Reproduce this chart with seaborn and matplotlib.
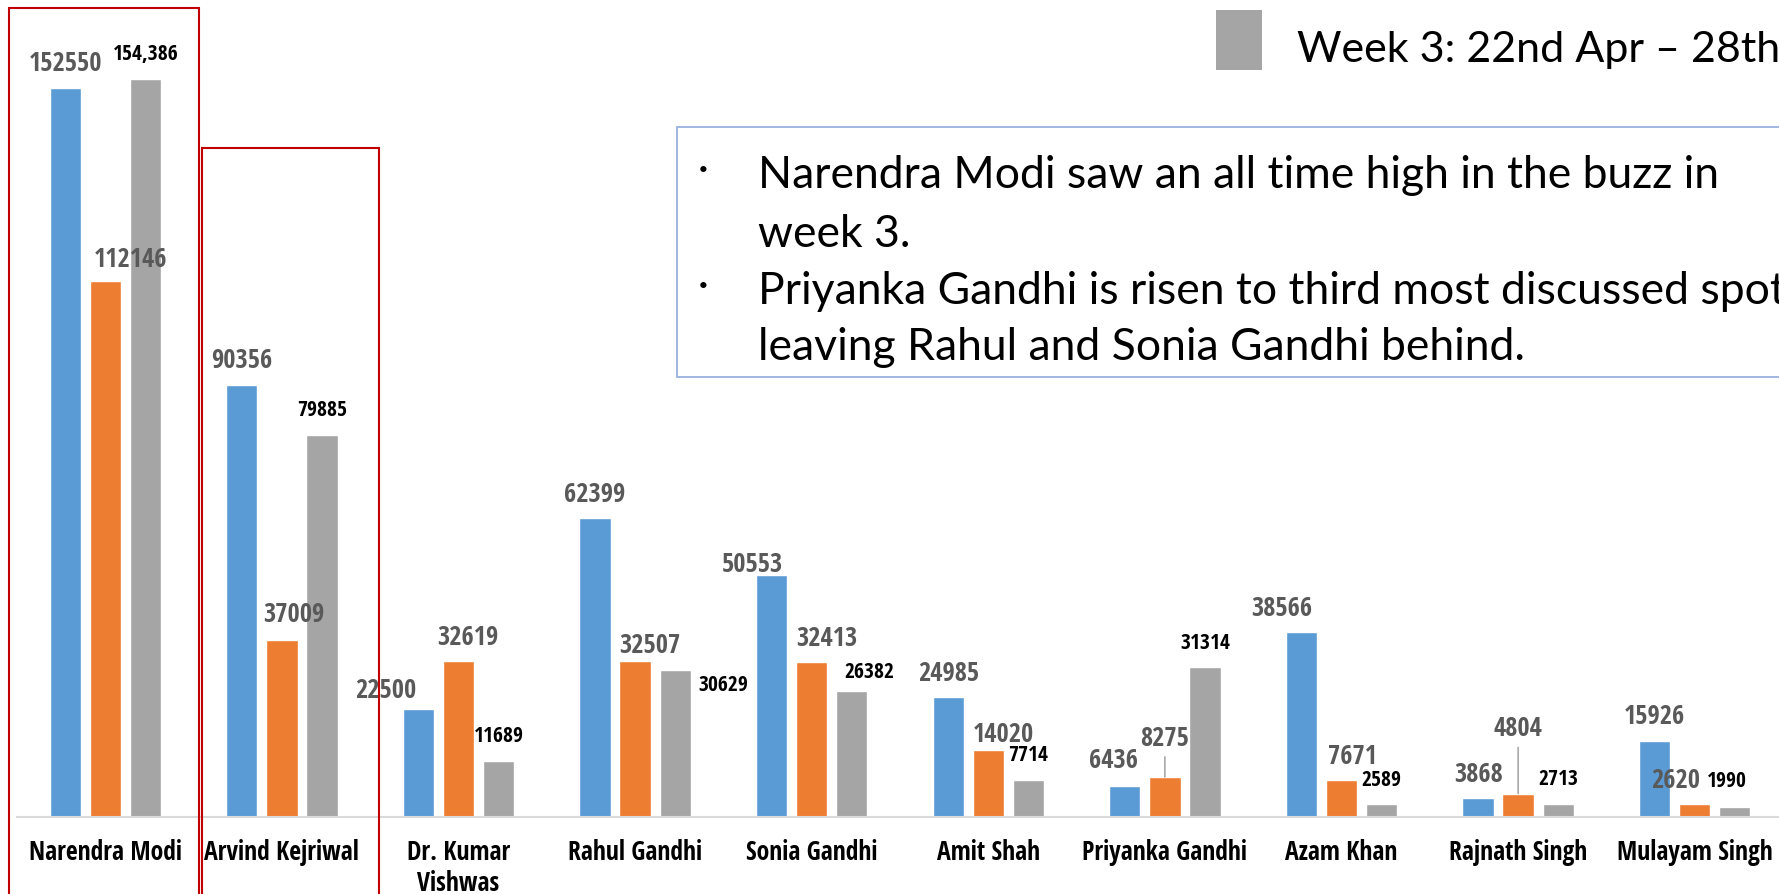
import numpy as np
import pandas as pd
import matplotlib
matplotlib.use("Agg")
import matplotlib.pyplot as plt
from matplotlib.patches import Rectangle
import seaborn as sns

# data
leaders = ["Narendra Modi", "Arvind Kejriwal", "Dr. Kumar\nVishwas", "Rahul Gandhi",
           "Sonia Gandhi", "Amit Shah", "Priyanka Gandhi", "Azam Khan",
           "Rajnath Singh", "Mulayam Singh"]
weeks = ["Week 1", "Week 2", "Week 3: 22nd Apr \u2013 28th Apr"]
week1 = [152550, 90356, 22500, 62399, 50553, 24985, 6436, 38566, 3868, 15926]
week2 = [112146, 37009, 32619, 32507, 32413, 14020, 8275, 7671, 4804, 2620]
week3 = [154386, 79885, 11689, 30629, 26382, 7714, 31314, 2589, 2713, 1990]
colors = ["#5B9BD5", "#ED7D31", "#A5A5A5"]

notes = [["Narendra Modi saw an all time high in the buzz in", "week 3."],
         ["Priyanka Gandhi is risen to third most discussed spot",
          "leaving Rahul and Sonia Gandhi behind."]]

df = pd.DataFrame({
    "leader": leaders * 3,
    "week": np.repeat(weeks, len(leaders)),
    "mentions": week1 + week2 + week3,
})

# label offsets (pixels from bar top centre), default is straight above
label_offsets = {
    (0, 2): (-33, 20), (0, 4): (-19, 12), (0, 6): (-11, 26), (0, 7): (-20, 25),
    (1, 0): (25, 22), (1, 1): (12, 26), (1, 2): (9, 24), (1, 3): (15, 17),
    (1, 4): (15, 24), (1, 5): (15, 16), (1, 6): (0, 40), (1, 7): (11, 25),
    (1, 8): (0, 66), (1, 9): (-19, 25),
    (2, 3): (48, -14), (2, 4): (18, 19), (2, 9): (-8, 27),
}
leader_lines = {(1, 6), (1, 8)}
comma_labels = {(2, 0)}

W, H = 1779, 895
base_px = 817.7
px_per_unit = 0.00478

sns.set_style("white")
narrow = ["Open Sans Condensed", "DejaVu Sans"]
body = ["Lato", "DejaVu Sans"]

fig = plt.figure(figsize=(W / 100, H / 100), dpi=100)
ax = fig.add_axes([17 / W, (H - base_px) / H, 1766 / W, base_px / H])

sns.barplot(data=df, x="leader", y="mentions", hue="week", palette=colors,
            width=0.68, gap=0.22, saturation=1, errorbar=None, legend=False, ax=ax)

ax.set_xlim(-0.5, 9.5)
ax.set_ylim(0, base_px / px_per_unit)
ax.set_xlabel("")
ax.set_ylabel("")
ax.set_yticks([])
for s in ["top", "right", "left"]:
    ax.spines[s].set_visible(False)
ax.spines["bottom"].set_color("#D9D9D9")
ax.spines["bottom"].set_linewidth(1.5)
ax.tick_params(axis="x", length=0, pad=15)
ax.set_xticks(range(len(leaders)))
ax.set_xticklabels(leaders, fontsize=18.5, fontweight="bold", family=narrow,
                   color="black", linespacing=1.2)

# data labels
for wi, cont in enumerate(ax.containers):
    for li, bar in enumerate(cont.patches):
        v = bar.get_height()
        txt = f"{int(v):,}" if (wi, li) in comma_labels else f"{int(v)}"
        dx, dy = label_offsets.get((wi, li), (0, 25))
        if wi == 2:
            style = dict(fontsize=15.5, fontweight="bold", color="black")
        else:
            style = dict(fontsize=19, fontweight="bold", color="#595959")
        arrow = None
        if (wi, li) in leader_lines:
            arrow = dict(arrowstyle="-", color="#7F7F7F", lw=0.8,
                         shrinkA=2, shrinkB=0)
        ax.annotate(txt, (bar.get_x() + bar.get_width() / 2, v),
                    xytext=(dx, dy), textcoords="offset pixels",
                    ha="center", va="center", family=narrow,
                    arrowprops=arrow, annotation_clip=False, **style)

# red highlight boxes
for x0, x1, top in [(-0.545, 0.53, 169200), (0.548, 1.55, 139900)]:
    ax.add_patch(Rectangle((x0, -30000), x1 - x0, top + 30000, fill=False,
                           ec="#C00000", lw=1.5, clip_on=False, zorder=5))

# legend entry (cut at the right edge like the slide)
fig.add_artist(Rectangle((1216 / W, 1 - 71 / H), 46 / W, 60 / H,
                         transform=fig.transFigure, color=colors[2], lw=0))
fig.text(1297 / W, 1 - 62 / H, weeks[2], fontsize=31, family=body,
         color="black", va="baseline", ha="left")

# comment box
fig.add_artist(Rectangle((677 / W, 1 - 378 / H), (W - 670) / W, 250 / H,
                         transform=fig.transFigure, facecolor="white",
                         edgecolor="#8FAADC", lw=1.2))
baselines = [[188, 247], [304, 360]]
for lines, ys in zip(notes, baselines):
    fig.text(703 / W, 1 - (ys[0] - 18) / H, "\u00b7", fontsize=30, family=body,
             ha="center", va="center", color="black")
    for line, y in zip(lines, ys):
        fig.text(758 / W, 1 - y / H, line, fontsize=32, family=body,
                 color="black", va="baseline", ha="left")

fig.savefig("out.png", dpi=100)
